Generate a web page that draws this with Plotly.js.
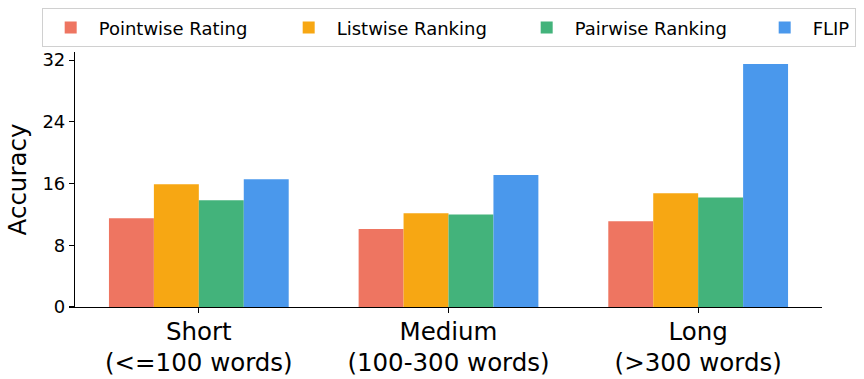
<!DOCTYPE html>
<html>
<head>
<meta charset="utf-8">
<script src="https://cdn.plot.ly/plotly-3.0.1.min.js"></script>
<style>html,body{margin:0;padding:0;background:#fff;}#chart{width:864px;height:379px;}</style>
</head>
<body>
<div id="chart"></div>
<script>
const categories = ["Short<br>(<=100 words)", "Medium<br>(100-300 words)", "Long<br>(>300 words)"];
const seriesNames = ["Pointwise Rating", "Listwise Ranking", "Pairwise Ranking", "FLIP"];
const pointwiseRating = [11.5, 10.1, 11.1];
const listwiseRanking = [15.9, 12.15, 14.75];
const pairwiseRanking = [13.85, 12.0, 14.2];
const flip = [16.55, 17.1, 31.5];
const yTicks = [0, 8, 16, 24, 32];

const colors = ["#EE7561", "#F7A713", "#43B37B", "#4A98EC"];
const seriesValues = [pointwiseRating, listwiseRanking, pairwiseRanking, flip];

const font = "DejaVu Sans, sans-serif";
const traces = seriesNames.map((name, i) => ({
  type: "bar",
  name: name,
  x: [0, 1, 2],
  y: seriesValues[i],
  marker: {color: colors[i], line: {width: 0}},
  legendwidth: i < 3 ? 177 : undefined,
  hoverinfo: "skip"
}));

const layout = {
  width: 864, height: 379,
  margin: {l: 75, r: 42, t: 52, b: 72, pad: 0, autoexpand: false},
  paper_bgcolor: "#ffffff", plot_bgcolor: "#ffffff",
  font: {family: font, color: "#000000"},
  barmode: "group", bargap: 0.28, bargroupgap: 0,
  showlegend: true,
  legend: {
    orientation: "h", x: -0.0446, y: 1.171, xanchor: "left", yanchor: "top",
    font: {family: font, size: 18, color: "#000"},
    bordercolor: "#d0d0d0", borderwidth: 1, bgcolor: "#ffffff",
    traceorder: "normal", itemwidth: 46
  },
  xaxis: {
    type: "linear", range: [-0.496, 2.496],
    tickmode: "array", tickvals: [0, 1, 2], ticktext: categories,
    showgrid: false, zeroline: false, showline: true, linecolor: "#000", linewidth: 1.1,
    ticks: "outside", ticklen: 5, tickwidth: 1.1, tickcolor: "#000",
    ticklabelstandoff: -3,
    tickfont: {family: font, size: 24.5, color: "#000"}
  },
  yaxis: {
    range: [0, 33.05],
    tickmode: "array", tickvals: yTicks, ticktext: yTicks.map(String),
    showgrid: false, zeroline: false, showline: true, linecolor: "#000", linewidth: 1.1,
    ticks: "outside", ticklen: 5, tickwidth: 1.1, tickcolor: "#000",
    tickfont: {family: font, size: 18, color: "#000"},
    title: {text: "Accuracy", font: {family: font, size: 24.5, color: "#000"}, standoff: 8}
  }
};

Plotly.newPlot("chart", traces, layout, {displayModeBar: false, staticPlot: true});
</script>
</body>
</html>
